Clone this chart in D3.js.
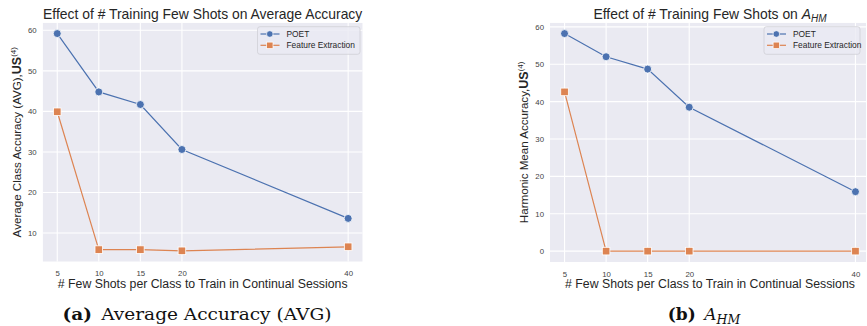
<!DOCTYPE html>
<html>
<head>
<meta charset="utf-8">
<script src="https://cdn.jsdelivr.net/npm/d3@7"></script>
<style>
  body { margin: 0; background: #fff; }
  svg { display: block; font-family: "Liberation Sans", Arial, sans-serif; }
</style>
</head>
<body>
<div class="chart"></div>
<script>
// values
const shots = [5, 10, 15, 20, 40];
const seriesNames = ['POET', 'Feature Extraction'];
const avgPoet = [59.2, 44.8, 41.7, 30.6, 13.6];
const avgFeature = [39.9, 5.9, 5.9, 5.6, 6.6];
const hmPoet = [58.2, 52.0, 48.7, 38.5, 15.9];
const hmFeature = [42.6, 0, 0, 0, 0];
const avgTicks = [10, 20, 30, 40, 50, 60];
const hmTicks = [0, 10, 20, 30, 40, 50, 60];
const xTicks = [5, 10, 15, 20, 40];

const colors = ['#4c72b0', '#dd8452'];
const W = 867, H = 326;
const serif = '"DejaVu Serif", "Liberation Serif", serif';

const svg = d3.select('.chart').append('svg').attr('width', W).attr('height', H);

const defs = svg.append('defs');

// one entry per panel
const panels = [
  { id: 'a', left: 42.7, top: 22.7, width: 320, height: 239,
    series: [avgPoet, avgFeature], yTicks: avgTicks,
    title: ['Effect of # Training Few Shots on Average Accuracy'],
    ylabel: 'Average Class Accuracy (AVG),', ylabelX: 17,
    legendX: 257.5, legendW: 102.5, capX: 197 },
  { id: 'b', left: 550, top: 22.7, width: 320, height: 239.3,
    series: [hmPoet, hmFeature], yTicks: hmTicks,
    title: ['Effect of # Training Few Shots on ', 'A', 'HM'],
    ylabel: 'Harmonic Mean Accuracy,', ylabelX: 524,
    legendX: 764, legendW: 96, capX: 704 }
];

function padded(lo, hi) {
  const m = (hi - lo) * 0.05;
  return [lo - m, hi + m];
}

panels.forEach(p => {
  const all = p.series.flat();
  const x = d3.scaleLinear().domain(padded(d3.min(shots), d3.max(shots))).range([0, p.width]);
  const y = d3.scaleLinear().domain(padded(d3.min(all), d3.max(all))).range([p.height, 0]);

  defs.append('clipPath').attr('id', 'clip-' + p.id)
    .append('rect').attr('width', Math.min(p.width, W - p.left - 1)).attr('height', p.height);

  const g = svg.append('g').attr('transform', 'translate(' + p.left + ',' + p.top + ')');
  const inner = g.append('g').attr('clip-path', 'url(#clip-' + p.id + ')');

  inner.append('rect').attr('width', p.width).attr('height', p.height).attr('fill', '#eaeaf2');

  // grid
  inner.selectAll('.gx').data(xTicks).enter().append('line')
    .attr('x1', d => x(d)).attr('x2', d => x(d)).attr('y1', 0).attr('y2', p.height)
    .attr('stroke', '#fff').attr('stroke-width', 1.1);
  inner.selectAll('.gy').data(p.yTicks).enter().append('line')
    .attr('y1', d => y(d)).attr('y2', d => y(d)).attr('x1', 0).attr('x2', p.width)
    .attr('stroke', '#fff').attr('stroke-width', 1.1);

  // axes (labels only, seaborn darkgrid style)
  const xAxis = g.append('g').attr('transform', 'translate(0,' + p.height + ')')
    .call(d3.axisBottom(x).tickValues(xTicks).tickSize(0).tickPadding(9));
  const yAxis = g.append('g')
    .call(d3.axisLeft(y).tickValues(p.yTicks).tickSize(0).tickPadding(6));
  [xAxis, yAxis].forEach(a => {
    a.select('.domain').remove();
    a.attr('font-family', null);
    a.selectAll('text').attr('font-size', 7.8).attr('fill', '#444');
  });

  const line = d3.line().x((d, i) => x(shots[i])).y(d => y(d));

  p.series.forEach((vals, s) => {
    inner.append('path').datum(vals)
      .attr('fill', 'none').attr('stroke', colors[s]).attr('stroke-width', 1.2)
      .attr('d', line);
  });
  p.series.forEach((vals, s) => {
    if (s === 0) {
      inner.selectAll('.m0').data(vals).enter().append('circle')
        .attr('cx', (d, i) => x(shots[i])).attr('cy', d => y(d)).attr('r', 4)
        .attr('fill', colors[0]).attr('stroke', '#fff').attr('stroke-width', 0.8);
    } else {
      inner.selectAll('.m1').data(vals).enter().append('rect')
        .attr('x', (d, i) => x(shots[i]) - 3.8).attr('y', d => y(d) - 3.8)
        .attr('width', 7.6).attr('height', 7.6)
        .attr('fill', colors[1]).attr('stroke', '#fff').attr('stroke-width', 0.8);
    }
  });

  // title
  const t = svg.append('text').attr('x', p.left + p.width / 2).attr('y', 19)
    .attr('text-anchor', 'middle').attr('font-size', 13.9).attr('fill', '#262626');
  t.append('tspan').text(p.title[0]);
  if (p.title.length > 1) {
    t.append('tspan').attr('font-style', 'italic').text(p.title[1]);
    t.append('tspan').attr('font-style', 'italic').attr('font-size', 10).attr('dy', 3).text(p.title[2]);
  }

  // x label
  svg.append('text').attr('x', p.left + p.width / 2).attr('y', 288)
    .attr('text-anchor', 'middle').attr('font-size', 12.3).attr('fill', '#262626')
    .text('# Few Shots per Class to Train in Continual Sessions');

  // y label
  const yl = svg.append('text')
    .attr('transform', 'translate(' + (p.ylabelX + 4) + ',' + (p.top + p.height / 2) + ') rotate(-90)')
    .attr('text-anchor', 'middle').attr('font-size', 11.6).attr('fill', '#262626');
  yl.append('tspan').text(p.ylabel);
  yl.append('tspan').attr('font-weight', 'bold').attr('font-size', 12.5).text('US');
  yl.append('tspan').attr('font-size', 8).attr('dy', -5).text('(4)');

  // legend
  const lg = svg.append('g').attr('transform', 'translate(' + p.legendX + ',26.7)');
  lg.append('rect').attr('width', p.legendW).attr('height', 27.6).attr('rx', 2.5)
    .attr('fill', '#eaeaf2').attr('fill-opacity', 0.8).attr('stroke', '#cfcfd6').attr('stroke-width', 0.8);
  seriesNames.forEach((name, s) => {
    const ey = 7.3 + s * 11.3;
    lg.append('line').attr('x1', 3).attr('x2', 22).attr('y1', ey).attr('y2', ey)
      .attr('stroke', colors[s]).attr('stroke-width', 1.2);
    if (s === 0) {
      lg.append('circle').attr('cx', 12.3).attr('cy', ey).attr('r', 3.3)
        .attr('fill', colors[s]).attr('stroke', '#fff').attr('stroke-width', 0.7);
    } else {
      lg.append('rect').attr('x', 12.3 - 3.2).attr('y', ey - 3.2).attr('width', 6.4).attr('height', 6.4)
        .attr('fill', colors[s]).attr('stroke', '#fff').attr('stroke-width', 0.7);
    }
    lg.append('text').attr('x', 29).attr('y', ey + 3).attr('font-size', 8.4).attr('fill', '#262626')
      .text(name);
  });
});

// captions (serif, LaTeX-like)
const capA = svg.append('text').attr('x', panels[0].capX).attr('y', 320)
  .attr('text-anchor', 'middle').attr('font-size', 17).attr('fill', '#111')
  .attr('textLength', 269).attr('lengthAdjust', 'spacingAndGlyphs')
  .style('font-family', serif);
capA.append('tspan').attr('font-weight', 'bold').text('(a)');
capA.append('tspan').text('\u2002Average Accuracy (AVG)');

const capB = svg.append('text').attr('x', panels[1].capX).attr('y', 320)
  .attr('text-anchor', 'middle').attr('font-size', 17).attr('fill', '#111')
  .style('font-family', serif);
capB.append('tspan').attr('font-weight', 'bold').text('(b)');
capB.append('tspan').attr('font-style', 'italic').text('\u2002A');
capB.append('tspan').attr('font-style', 'italic').attr('font-size', 12.5).attr('dy', 4).text('HM');
</script>
</body>
</html>
